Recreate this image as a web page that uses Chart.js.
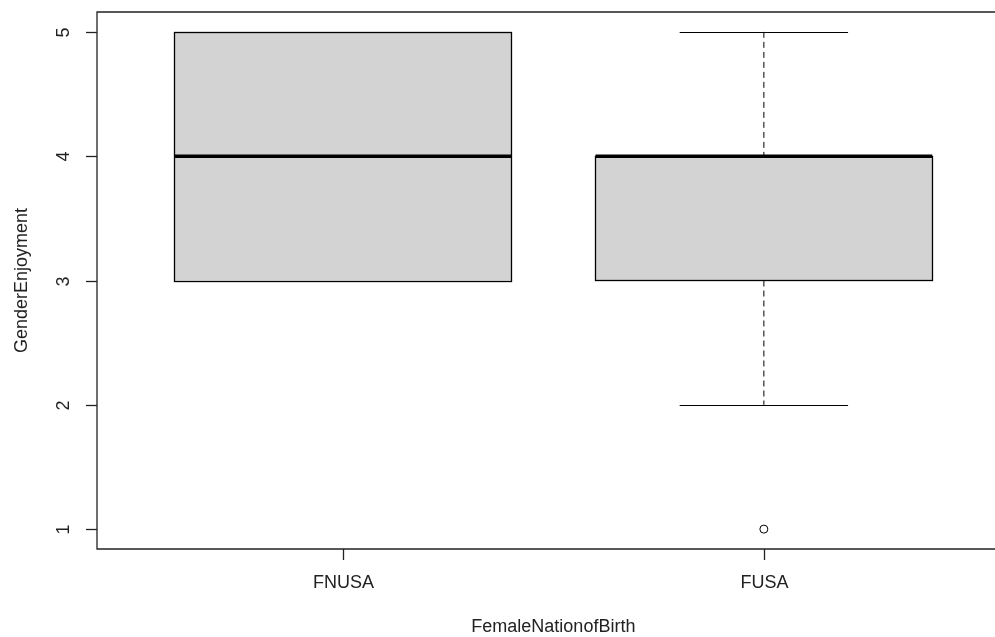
<!DOCTYPE html>
<html>
<head>
<meta charset="utf-8">
<script src="https://cdn.jsdelivr.net/npm/chart.js@4/dist/chart.umd.min.js"></script>
<style>
  html, body { margin: 0; padding: 0; background: #fff; }
  #wrap { width: 995px; height: 637px; }
</style>
</head>
<body>
<div id="wrap"><canvas id="c"></canvas></div>
<script>
// Box summaries.
var categories = ['FNUSA', 'FUSA'];
var whiskerLow = [3, 2];
var q1 = [3, 3];
var medians = [4, 4];
var q3 = [5, 4];
var whiskerHigh = [5, 5];
var outliers = [[], [1]];
var yTicks = [1, 2, 3, 4, 5];

var xTitle = 'FemaleNationofBirth';
var yTitle = 'GenderEnjoyment';

var FONT = '18px "Liberation Sans", Arial, sans-serif';
var INK = '#222';

// Draws the R-style boxplot: frame, axes, boxes, whiskers, outliers.
var boxplotPlugin = {
    id: 'boxplot',
    afterDatasetsDraw: function(chart) {
        var ctx = chart.ctx;
        var xs = chart.scales.x;
        var ys = chart.scales.y;
        var area = chart.chartArea;
        var boxHalf = 0.4;
        var capHalf = 0.2;

        ctx.save();
        ctx.lineCap = 'butt';

        categories.forEach(function(name, i) {
            var pos = i + 1;
            var xl = xs.getPixelForValue(pos - boxHalf);
            var xr = xs.getPixelForValue(pos + boxHalf);
            var xc = xs.getPixelForValue(pos);
            var cl = xs.getPixelForValue(pos - capHalf);
            var cr = xs.getPixelForValue(pos + capHalf);
            var yq1 = ys.getPixelForValue(q1[i]);
            var yq3 = ys.getPixelForValue(q3[i]);

            // whiskers (dashed)
            ctx.strokeStyle = '#000';
            ctx.lineWidth = 1;
            ctx.setLineDash([6, 4]);
            if (whiskerHigh[i] > q3[i]) {
                ctx.beginPath();
                ctx.moveTo(xc, ys.getPixelForValue(whiskerHigh[i]));
                ctx.lineTo(xc, yq3);
                ctx.stroke();
            }
            if (whiskerLow[i] < q1[i]) {
                ctx.beginPath();
                ctx.moveTo(xc, yq1);
                ctx.lineTo(xc, ys.getPixelForValue(whiskerLow[i]));
                ctx.stroke();
            }
            ctx.setLineDash([]);

            // staples
            [whiskerLow[i], whiskerHigh[i]].forEach(function(v) {
                var yy = Math.round(ys.getPixelForValue(v)) + 0.5;
                ctx.beginPath();
                ctx.moveTo(cl, yy);
                ctx.lineTo(cr, yy);
                ctx.stroke();
            });

            // box
            ctx.fillStyle = '#d3d3d3';
            ctx.fillRect(xl, yq3, xr - xl, yq1 - yq3);
            ctx.strokeStyle = '#000';
            ctx.lineWidth = 1.3;
            ctx.strokeRect(Math.round(xl) + 0.5, Math.round(yq3) + 0.5,
                Math.round(xr - xl), Math.round(yq1 - yq3));

            // median
            ctx.lineWidth = 3.5;
            ctx.beginPath();
            var ym = ys.getPixelForValue(medians[i]);
            ctx.moveTo(xl, ym);
            ctx.lineTo(xr, ym);
            ctx.stroke();

            // outliers
            ctx.lineWidth = 1;
            outliers[i].forEach(function(v) {
                ctx.beginPath();
                ctx.arc(xc, ys.getPixelForValue(v), 4, 0, Math.PI * 2);
                ctx.stroke();
            });
        });

        // frame (right side falls outside the picture)
        ctx.strokeStyle = INK;
        ctx.lineWidth = 1.3;
        ctx.beginPath();
        ctx.moveTo(area.right + 20, area.top);
        ctx.lineTo(area.left, area.top);
        ctx.lineTo(area.left, area.bottom);
        ctx.lineTo(area.right + 20, area.bottom);
        ctx.stroke();

        // y ticks and labels (rotated, R style)
        ctx.fillStyle = INK;
        ctx.font = FONT;
        ctx.textAlign = 'center';
        ctx.textBaseline = 'middle';
        yTicks.forEach(function(t) {
            var yy = Math.round(ys.getPixelForValue(t)) + 0.5;
            ctx.beginPath();
            ctx.moveTo(area.left - 11, yy);
            ctx.lineTo(area.left, yy);
            ctx.stroke();
            ctx.save();
            ctx.translate(area.left - 33, yy);
            ctx.rotate(-Math.PI / 2);
            ctx.fillText(String(t), 0, 0);
            ctx.restore();
        });

        // x ticks and labels
        categories.forEach(function(name, i) {
            var xx = Math.round(xs.getPixelForValue(i + 1)) + 0.5;
            ctx.beginPath();
            ctx.moveTo(xx, area.bottom);
            ctx.lineTo(xx, area.bottom + 11);
            ctx.stroke();
            ctx.fillText(name, xx, area.bottom + 34);
        });

        // axis titles
        ctx.fillText(xTitle, (area.left + xs.getPixelForValue(2.584)) / 2, area.bottom + 78);
        ctx.save();
        ctx.translate(22, (area.top + area.bottom) / 2);
        ctx.rotate(-Math.PI / 2);
        ctx.fillText(yTitle, 0, 0);
        ctx.restore();

        ctx.restore();
    }
};

new Chart(document.getElementById('c'), {
    type: 'scatter',
    data: { datasets: [{ data: [], pointRadius: 0 }] },
    options: {
        responsive: true,
        maintainAspectRatio: false,
        animation: false,
        layout: { padding: { left: 97, right: 0, top: 12, bottom: 88 } },
        plugins: { legend: { display: false }, tooltip: { enabled: false } },
        scales: {
            x: { type: 'linear', min: 0.416, max: 2.549, display: false },
            y: { type: 'linear', min: 0.84, max: 5.16, display: false }
        }
    },
    plugins: [boxplotPlugin]
});
</script>
</body>
</html>
